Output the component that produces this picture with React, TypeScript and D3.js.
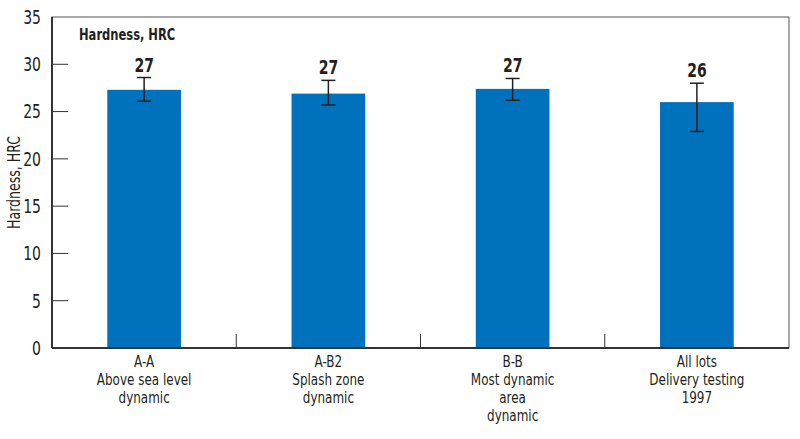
import * as d3 from 'd3';
import type { ReactNode } from 'react';

const categories = ['A-A', 'A-B2', 'B-B', 'All lots'];
const subLabels: string[][] = [
  ['Above sea level', 'dynamic'],
  ['Splash zone', 'dynamic'],
  ['Most dynamic', 'area', 'dynamic'],
  ['Delivery testing', '1997'],
];
const means = [27.3, 26.9, 27.4, 26.0];
const errLow = [26.1, 25.7, 26.2, 22.9];
const errHigh = [28.6, 28.3, 28.5, 28.0];
const valueLabels = ['27', '27', '27', '26'];
const yTicks = [0, 5, 10, 15, 20, 25, 30, 35];

const W = 800;
const H = 439;
const margin = { top: 17, right: 11, bottom: 91, left: 52 };
const font = "'DejaVu Sans Condensed', 'Liberation Sans Narrow', sans-serif";
const ink = '#231f20';
const blue = '#0071bc';

// condensed text: place at (x,y) and squeeze horizontally
const T = ({ x, y, rot = 0, sx = 0.82, children }: { x: number; y: number; rot?: number; sx?: number; children: ReactNode }) => (
  <g transform={`translate(${x},${y}) rotate(${rot}) scale(${sx},1)`}>{children}</g>
);

export default function App() {
  const x = d3
    .scaleBand<string>()
    .domain(categories)
    .range([margin.left, W - margin.right])
    .padding(0);
  const y = d3.scaleLinear().domain([0, 35]).range([H - margin.bottom, margin.top]);
  const barW = x.bandwidth() * 0.4;
  const y0 = y(0);
  const x0 = margin.left;
  const x1 = W - margin.right;

  return (
    <svg width={W} height={H} style={{ position: 'absolute', left: 0, top: 0 }} fontFamily={font}>
      {/* frame */}
      <rect x={x0} y={y(35)} width={x1 - x0} height={y0 - y(35)} fill="none" stroke="#555" strokeWidth={1} />
      {/* bars */}
      {categories.map((c, i) => {
        const cx = (x(c) ?? 0) + x.bandwidth() / 2;
        return (
          <g key={c}>
            <rect x={cx - barW / 2} y={y(means[i])} width={barW} height={y0 - y(means[i])} fill={blue} />
            <line x1={cx} x2={cx} y1={y(errHigh[i])} y2={y(errLow[i])} stroke={ink} strokeWidth={1.5} />
            <line x1={cx - 7} x2={cx + 7} y1={y(errHigh[i])} y2={y(errHigh[i])} stroke={ink} strokeWidth={1.5} />
            <line x1={cx - 7} x2={cx + 7} y1={y(errLow[i])} y2={y(errLow[i])} stroke={ink} strokeWidth={1.5} />
            <T x={cx} y={y(errHigh[i]) - 6}>
              <text textAnchor="middle" fontSize={19} fontWeight="bold" fill={ink}>
                {valueLabels[i]}
              </text>
            </T>
          </g>
        );
      })}
      {/* axes lines */}
      <line x1={x0} x2={x0} y1={y(35)} y2={y0} stroke="#333" strokeWidth={2} />
      <line x1={x0} x2={x1} y1={y0} y2={y0} stroke="#333" strokeWidth={2} />
      {/* y ticks */}
      {yTicks.map((t) => (
        <g key={t}>
          {t > 0 && t < 35 && <line x1={x0} x2={x0 + 16} y1={y(t)} y2={y(t)} stroke="#333" strokeWidth={1} />}
          <T x={41} y={y(t)}>
            <text dy="0.36em" textAnchor="end" fontSize={19} fill={ink}>
              {t}
            </text>
          </T>
        </g>
      ))}
      {/* category separators */}
      {categories.slice(1).map((c) => (
        <line key={c} x1={x(c)} x2={x(c)} y1={y0 - 14} y2={y0} stroke="#333" strokeWidth={1} />
      ))}
      {/* category labels */}
      {categories.map((c, i) => {
        const cx = (x(c) ?? 0) + x.bandwidth() / 2;
        return (
          <T key={c} x={cx} y={0} sx={0.86}>
            <text textAnchor="middle" fontSize={15.5} fill={ink}>
              <tspan x={0} y={367}>{c}</tspan>
              {subLabels[i].map((s, j) => (
                <tspan key={j} x={0} y={385 + j * 18}>{s}</tspan>
              ))}
            </text>
          </T>
        );
      })}
      {/* titles */}
      <T x={20} y={(y(35) + y0) / 2} rot={-90}>
        <text textAnchor="middle" fontSize={17} fill={ink}>
          Hardness, HRC
        </text>
      </T>
      <T x={79} y={40} sx={0.8}>
        <text fontSize={16} fontWeight="bold" fill={ink}>
          Hardness, HRC
        </text>
      </T>
    </svg>
  );
}
